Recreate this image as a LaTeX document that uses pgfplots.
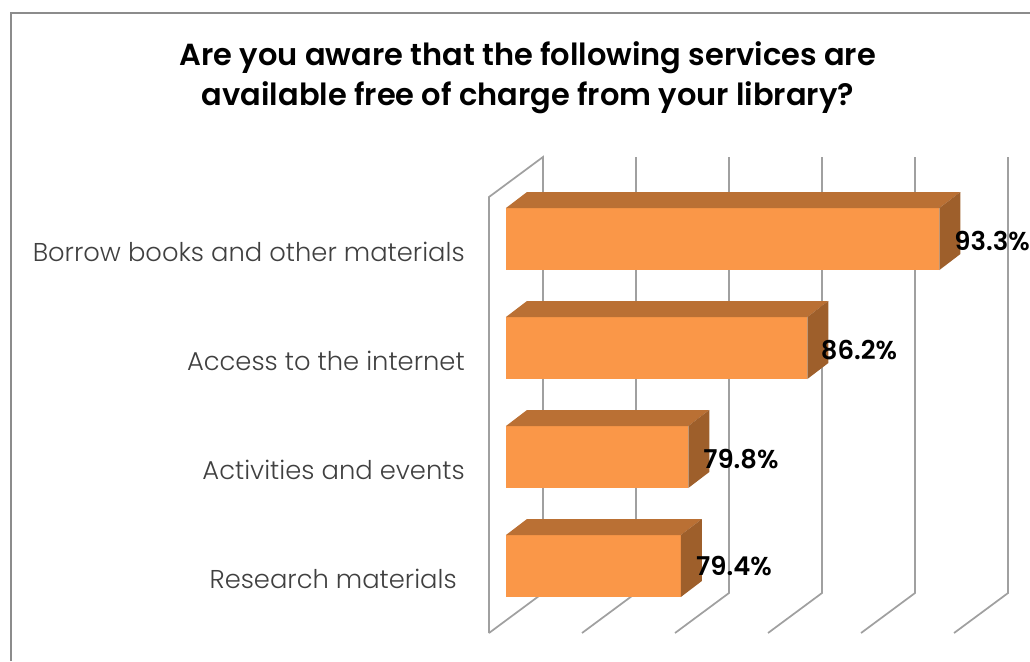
\documentclass[border=0pt]{standalone}
\usepackage{fontspec}
\setmainfont[BoldFont={Poppins SemiBold}]{Poppins Light}
\usepackage{pgfplots}
\pgfplotsset{compat=1.18}
\definecolor{barfront}{HTML}{FA9748}
\definecolor{bartop}{HTML}{BA7034}
\definecolor{barside}{HTML}{9E5F2B}
\definecolor{gridc}{HTML}{A0A0A0}
\definecolor{framec}{HTML}{8C8C8C}
\definecolor{labelc}{HTML}{404040}
\begin{document}
\begin{tikzpicture}
\begin{axis}[
  at={(0,0)}, anchor=south west,
  scale only axis, width=389.25pt, height=357pt,
  xmin=69.086, xmax=96.986, ymin=-0.6147, ymax=3.7523,
  clip=false,
  axis line style={draw=none},
  tick style={draw=none},
  xtick=\empty,
  ytick={0,1,2,3},
  yticklabels={Research materials\rule{6pt}{0pt},Activities and events,Access to the internet,Borrow books and other materials},
  yticklabel style={inner sep=0pt, anchor=east, xshift=-18pt, yshift=-10pt, text=labelc, font=\fontsize{19.35pt}{22pt}\selectfont},
  title={Are you aware that the following services are\\available free of charge from your library?},
  title style={at={(0.0751,1.150)}, anchor=center, align=center, font=\fontsize{22.85pt}{30pt}\selectfont\bfseries},
  every axis plot/.append style={line join=miter},
]
% wall and grid lines
\addplot[gridc, line width=1.3pt] coordinates {(69.086,-0.6147)(69.086,3.3853)(71.989,3.7523)(71.989,-0.2477)(69.086,-0.6147)};
\addplot[gridc, line width=1.3pt] coordinates {(76.989,3.7523)(76.989,-0.2477)(74.086,-0.6147)};
\addplot[gridc, line width=1.3pt] coordinates {(81.989,3.7523)(81.989,-0.2477)(79.086,-0.6147)};
\addplot[gridc, line width=1.3pt] coordinates {(86.989,3.7523)(86.989,-0.2477)(84.086,-0.6147)};
\addplot[gridc, line width=1.3pt] coordinates {(91.989,3.7523)(91.989,-0.2477)(89.086,-0.6147)};
\addplot[gridc, line width=1.3pt] coordinates {(96.989,3.7523)(96.989,-0.2477)(94.086,-0.6147)};
% Borrow books 93.3
\addplot[fill=barfront, draw=none, forget plot] coordinates {(70,2.7156)(93.3,2.7156)(93.3,3.2844)(70,3.2844)} --cycle;
\addplot[fill=bartop, draw=none, forget plot] coordinates {(70,3.2844)(93.3,3.2844)(94.429,3.4312)(71.129,3.4312)} --cycle;
\addplot[fill=barside, draw=none, forget plot] coordinates {(93.3,2.7156)(93.3,3.2844)(94.429,3.4312)(94.429,2.8624)} --cycle;
% Access 86.2
\addplot[fill=barfront, draw=none, forget plot] coordinates {(70,1.7156)(86.2,1.7156)(86.2,2.2844)(70,2.2844)} --cycle;
\addplot[fill=bartop, draw=none, forget plot] coordinates {(70,2.2844)(86.2,2.2844)(87.329,2.4312)(71.129,2.4312)} --cycle;
\addplot[fill=barside, draw=none, forget plot] coordinates {(86.2,1.7156)(86.2,2.2844)(87.329,2.4312)(87.329,1.8624)} --cycle;
% Activities 79.8
\addplot[fill=barfront, draw=none, forget plot] coordinates {(70,0.7156)(79.8,0.7156)(79.8,1.2844)(70,1.2844)} --cycle;
\addplot[fill=bartop, draw=none, forget plot] coordinates {(70,1.2844)(79.8,1.2844)(80.929,1.4312)(71.129,1.4312)} --cycle;
\addplot[fill=barside, draw=none, forget plot] coordinates {(79.8,0.7156)(79.8,1.2844)(80.929,1.4312)(80.929,0.8624)} --cycle;
% Research 79.4
\addplot[fill=barfront, draw=none, forget plot] coordinates {(70,-0.2844)(79.4,-0.2844)(79.4,0.2844)(70,0.2844)} --cycle;
\addplot[fill=bartop, draw=none, forget plot] coordinates {(70,0.2844)(79.4,0.2844)(80.529,0.4312)(71.129,0.4312)} --cycle;
\addplot[fill=barside, draw=none, forget plot] coordinates {(79.4,-0.2844)(79.4,0.2844)(80.529,0.4312)(80.529,-0.1376)} --cycle;
% value labels
\addplot[draw=none, mark=none, point meta=explicit symbolic,
  nodes near coords, every node near coord/.append style={anchor=center, inner sep=0pt, text=black, font=\fontsize{19.4pt}{22pt}\selectfont\bfseries}]
  coordinates {(96.13,2.98)[93.3\%] (88.98,1.98)[86.2\%] (82.63,0.98)[79.8\%] (82.26,0)[79.4\%]};
\end{axis}
\draw[framec, line width=1.2pt] (-358.5pt,-21pt) -- (-358.5pt,465pt) -- (405.75pt,465pt);
\pgfresetboundingbox
\path[use as bounding box] (-366.75pt,-21pt) rectangle (405.75pt,474.75pt);
\end{tikzpicture}
\end{document}
